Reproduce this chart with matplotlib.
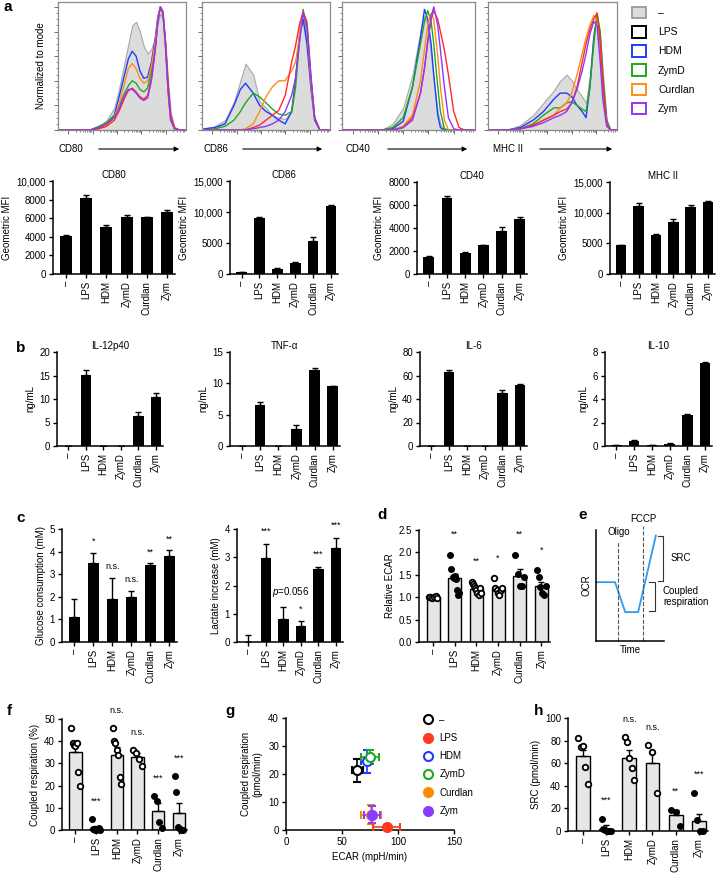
import numpy as np
import matplotlib
matplotlib.use('Agg')
import matplotlib.pyplot as plt
from matplotlib.patches import Patch
from matplotlib.lines import Line2D

plt.rcParams['font.family'] = ['Liberation Sans', 'DejaVu Sans']
plt.rcParams['font.size'] = 7
plt.rcParams['mathtext.fontset'] = 'custom'
plt.rcParams['mathtext.it'] = 'Liberation Sans:italic'
plt.rcParams['axes.linewidth'] = 1.1

groups = ['–', 'LPS', 'HDM', 'ZymD', 'Curdlan', 'Zym']
stims = ['LPS', 'HDM', 'ZymD', 'Curdlan', 'Zym']
line_col = {'LPS': '#ff2a2a', 'HDM': '#1f3cff', 'ZymD': '#1fa81f',
            'Curdlan': '#ff8c1a', 'Zym': '#9035ff'}
legend_col = {'–': '#a0a0a0', 'LPS': 'black', 'HDM': '#1f3cff', 'ZymD': '#1fa81f',
              'Curdlan': '#ff8c1a', 'Zym': '#9035ff'}

# ---- flow histograms (x = fraction of axis, y = % of mode)
cd80_x = [0, 0.25, 0.32, 0.38, 0.44, 0.48, 0.52, 0.55, 0.58, 0.61, 0.64, 0.67,
          0.70, 0.73, 0.76, 0.78, 0.80, 0.82, 0.84, 0.86, 0.88, 0.91, 0.95, 1.0]
cd80 = {
    '–':       [0, 0, 3, 8, 18, 35, 55, 70, 85, 88, 80, 68, 62, 66, 75, 88, 95, 90, 70, 40, 15, 2, 0, 0],
    'HDM':     [0, 0, 2, 5, 12, 28, 45, 58, 64, 60, 48, 42, 43, 55, 75, 92, 100, 96, 70, 35, 10, 1, 0, 0],
    'Curdlan': [0, 0, 1, 4, 10, 22, 38, 50, 54, 50, 42, 38, 40, 52, 72, 90, 100, 95, 68, 32, 8, 1, 0, 0],
    'ZymD':    [0, 0, 3, 6, 12, 20, 30, 36, 40, 38, 33, 31, 34, 48, 70, 90, 100, 95, 68, 32, 8, 1, 0, 0],
    'LPS':     [0, 0, 1, 3, 8, 16, 26, 32, 34, 31, 27, 25, 28, 42, 66, 88, 100, 96, 72, 38, 12, 2, 0, 0],
    'Zym':     [0, 0, 2, 5, 10, 18, 28, 33, 33, 30, 26, 24, 26, 40, 65, 88, 100, 94, 68, 32, 8, 1, 0, 0],
}
cd86_x = [0, 0.02, 0.1, 0.18, 0.25, 0.3, 0.34, 0.4, 0.45, 0.5, 0.55, 0.6, 0.65,
          0.7, 0.73, 0.76, 0.79, 0.82, 0.85, 0.88, 0.92, 1.0]
cd86 = {
    '–':       [0, 1, 3, 8, 23, 40, 54, 45, 23, 18, 12, 10, 9, 15, 35, 88, 93, 70, 35, 8, 0, 0],
    'HDM':     [0, 1, 2, 5, 20, 33, 38, 30, 20, 15, 12, 8, 5, 15, 40, 75, 90, 70, 35, 8, 0, 0],
    'ZymD':    [0, 0, 1, 3, 8, 15, 22, 30, 27, 22, 17, 13, 12, 15, 35, 70, 98, 80, 40, 10, 0, 0],
    'Curdlan': [0, 0, 0, 0, 0, 0, 1, 5, 15, 27, 35, 40, 40, 48, 55, 75, 96, 85, 40, 10, 0, 0],
    'LPS':     [0, 0, 0, 0, 0, 0, 0, 2, 4, 8, 12, 16, 28, 55, 68, 85, 96, 88, 45, 10, 0, 0],
    'Zym':     [0, 0, 0, 0, 0, 0, 0, 1, 2, 3, 5, 8, 15, 28, 42, 70, 95, 85, 45, 10, 0, 0],
}
cd40_x = [0, 0.3, 0.38, 0.46, 0.53, 0.59, 0.62, 0.645, 0.67, 0.69, 0.72, 0.74,
          0.77, 0.80, 0.84, 0.88, 0.92, 1.0]
cd40 = {
    '–':       [0, 0, 5, 18, 45, 80, 93, 85, 60, 40, 15, 5, 1, 0, 0, 0, 0, 0],
    'HDM':     [0, 0, 1, 7, 35, 75, 98, 90, 70, 45, 12, 2, 0, 0, 0, 0, 0, 0],
    'ZymD':    [0, 0, 2, 10, 35, 70, 88, 97, 88, 70, 35, 15, 1, 0, 0, 0, 0, 0],
    'Curdlan': [0, 0, 0, 3, 12, 40, 65, 85, 95, 90, 60, 35, 8, 0, 0, 0, 0, 0],
    'Zym':     [0, 0, 0, 2, 8, 30, 50, 72, 92, 100, 85, 65, 35, 10, 1, 0, 0, 0],
    'LPS':     [0, 0, 0, 2, 10, 30, 50, 72, 90, 97, 90, 80, 65, 45, 15, 2, 0, 0],
}
mhc_x = [0, 0.15, 0.25, 0.35, 0.43, 0.51, 0.56, 0.61, 0.65, 0.69, 0.73, 0.76,
         0.79, 0.82, 0.845, 0.87, 0.89, 0.92, 0.95, 1.0]
mhc = {
    '–':       [0, 0, 4, 12, 22, 32, 40, 45, 40, 33, 27, 22, 45, 80, 94, 75, 48, 7, 0, 0],
    'HDM':     [0, 0, 2, 8, 15, 25, 30, 30, 27, 20, 15, 10, 35, 75, 92, 70, 35, 8, 0, 0],
    'ZymD':    [0, 0, 1, 5, 12, 18, 18, 22, 23, 20, 17, 15, 35, 70, 95, 80, 45, 8, 0, 0],
    'Curdlan': [0, 0, 1, 3, 8, 12, 18, 22, 30, 45, 62, 75, 85, 93, 90, 60, 30, 5, 0, 0],
    'LPS':     [0, 0, 1, 4, 8, 12, 15, 17, 22, 35, 55, 70, 82, 90, 95, 75, 40, 5, 0, 0],
    'Zym':     [0, 0, 1, 3, 6, 10, 12, 15, 22, 33, 48, 62, 78, 88, 85, 55, 25, 3, 0, 0],
}
hist_names = ['CD80', 'CD86', 'CD40', 'MHC II']

# ---- MFI bars
cd80_mfi = [4100, 8200, 5100, 6100, 6100, 6700]
cd80_err = [50, 250, 200, 250, 50, 200]
cd86_mfi = [350, 9100, 850, 1800, 5300, 11000]
cd86_err = [50, 150, 80, 100, 700, 200]
cd40_mfi = [1500, 6600, 1850, 2500, 3700, 4800]
cd40_err = [30, 200, 40, 20, 350, 200]
mhc_mfi = [4700, 11100, 6300, 8400, 10900, 11700]
mhc_err = [100, 500, 300, 600, 400, 200]

# ---- cytokines (ng/mL)
il12 = [0, 15.2, 0, 0, 6.3, 10.5]
il12_err = [0, 0.9, 0, 0, 0.9, 0.8]
tnf = [0, 6.6, 0, 2.7, 12.1, 9.5]
tnf_err = [0, 0.5, 0, 0.6, 0.3, 0.15]
il6 = [0, 63, 0, 0, 45, 51.5]
il6_err = [0, 2, 0, 0, 3, 1]
il10 = [0.05, 0.45, 0.05, 0.2, 2.65, 7.05]
il10_err = [0.02, 0.05, 0.02, 0.03, 0.05, 0.1]

# ---- glucose / lactate
gluc = [1.1, 3.5, 1.9, 2.0, 3.4, 3.8]
gluc_err = [0.8, 0.45, 0.95, 0.25, 0.08, 0.25]
gluc_sig = ['', '*', 'n.s.', 'n.s.', '**', '**']
lact = [0, 2.97, 0.8, 0.55, 2.57, 3.33]
lact_err = [0.25, 0.5, 0.45, 0.18, 0.08, 0.35]
lact_sig = ['', '***', '$p$=0.056', '*', '***', '***']

# ---- relative ECAR
ecar_mean = [1.0, 1.43, 1.18, 1.18, 1.48, 1.25]
ecar_err = [0.01, 0.08, 0.04, 0.05, 0.14, 0.08]
ecar_pts = [[1.0, 1.01, 0.99, 1.0, 1.02, 0.98],
            [1.95, 1.62, 1.45, 1.42, 1.48, 1.4, 1.15, 1.05, 1.1],
            [1.35, 1.3, 1.25, 1.2, 1.15, 1.1, 1.05, 1.2, 1.1],
            [1.43, 1.2, 1.15, 1.1, 1.05, 1.15, 1.2],
            [1.95, 1.52, 1.25, 1.25, 1.45],
            [1.6, 1.45, 1.22, 1.1, 1.05, 1.25]]
ecar_sig = ['', '**', '**', '*', '**', '*']

# ---- schematic
e_time = [0, 0.28, 0.43, 0.62, 0.88]
e_ocr = [0.53, 0.53, 0.26, 0.26, 0.95]

# ---- coupled respiration (%)
coup_mean = [35, 0.8, 34, 33, 8.5, 7.5]
coup_err = [3, 0.8, 3.5, 1.5, 3.5, 4.5]
coup_pts = [[46, 39, 38.5, 38, 39, 26, 20], [5, 0.5, 0, 0, 0.5, 1, 0],
            [46, 40, 39, 36, 34, 24, 20.5], [36, 34.5, 32, 29],
            [15.5, 13, 3.5, 1], [24.5, 17, 1.5, 0.5, 0, 0]]
coup_sig = ['', '***', 'n.s.', 'n.s.', '***', '***']

# ---- ECAR vs OCR
g_ecar = [63.5, 90, 72, 75, 76, 77]
g_ecar_err = [5, 12, 5, 8, 9, 7]
g_ocr = [21.3, 1.2, 24.5, 26, 5.5, 5.5]
g_ocr_err = [4, 0.5, 4, 2.5, 3.5, 3]
g_col = ['black', '#ff3b1f', '#1f3cff', '#1fa81f', '#ff8c00', '#8a3cff']

# ---- SRC
src_mean = [66, 2, 65, 60, 14, 9]
src_err = [6, 3, 7, 9, 5, 6]
src_pts = [[82, 74, 75, 57, 42], [11, 2, 1, 0, 0, 0], [83, 79, 65, 56, 45],
           [76, 70, 34], [19, 17, 4], [34, 10, 0, 0]]
src_sig = ['', '***', 'n.s.', 'n.s.', '**', '***']

open_grp = [True, False, True, True, False, False]

W, H = 720, 876
fig = plt.figure(figsize=(W / 100, H / 100), dpi=100)


def box(l, t, r, b):
    return fig.add_axes([l / W, 1 - b / H, (r - l) / W, (b - t) / H])


def ftext(x, y, s, **kw):
    fig.text(x / W, 1 - y / H, s, **kw)


def prism(ax, ylim, yticks, yticklabels=None, ylabel=None):
    x = np.arange(len(groups))
    ax.spines[['top', 'right']].set_visible(False)
    ax.set_xlim(-0.65, 5.4)
    ax.set_ylim(*ylim)
    ax.set_xticks(x)
    ax.set_xticklabels(groups, rotation=90)
    ax.set_yticks(yticks)
    if yticklabels is not None:
        ax.set_yticklabels(yticklabels)
    ax.tick_params(length=3, width=1, pad=2, labelsize=7)
    if ylabel:
        ax.set_ylabel(ylabel, labelpad=3)
    return x


def black_bars(ax, means, errs):
    x = np.arange(len(groups))
    ax.bar(x, means, width=0.6, color='black', zorder=2)
    ax.errorbar(x, means, yerr=[np.zeros(len(x)), errs], fmt='none',
                ecolor='black', elinewidth=1, capsize=2.5, capthick=1, zorder=1)


def dot_bars(ax, means, errs, pts, sig, off):
    x = np.arange(len(groups))
    ax.bar(x, means, width=0.6, color='#e6e6e6', edgecolor='black', linewidth=1, zorder=1)
    ax.errorbar(x, means, yerr=[np.zeros(len(x)), errs], fmt='none',
                ecolor='black', elinewidth=1, capsize=2.5, capthick=1, zorder=2)
    for i, p in enumerate(pts):
        jit = np.linspace(-0.2, 0.2, len(p))
        if open_grp[i]:
            ax.scatter(x[i] + jit, p, s=16, facecolor='white', edgecolor='black',
                       linewidth=1.3, zorder=3, clip_on=False)
        else:
            ax.scatter(x[i] + jit, p, s=16, color='black', zorder=3, clip_on=False)
        top = max(max(p), means[i] + errs[i])
        ax.text(x[i], top + off, sig[i], ha='center', va='bottom', fontsize=6.5, clip_on=False)


# ===== a: histograms
hboxes = [(58, 2, 186, 130), (202, 2, 330, 130), (342, 2, 475, 130), (488, 2, 617, 130)]
hdata = [(cd80_x, cd80), (cd86_x, cd86), (cd40_x, cd40), (mhc_x, mhc)]
dec = np.array([0.08, 0.27, 0.46, 0.65, 0.84])
minor = np.concatenate([d + 0.19 * np.log10(np.arange(2, 10)) for d in dec])
minor = minor[minor < 1]
for k, (bx, (hx, hd)) in enumerate(zip(hboxes, hdata)):
    ax = box(*bx)
    ax.fill_between(hx, hd['–'], color='#dcdcdc', edgecolor='#a8a8a8', linewidth=0.8)
    for nm in ['HDM', 'ZymD', 'Curdlan', 'LPS', 'Zym']:
        ax.plot(hx, hd[nm], color=line_col[nm], lw=1)
    ax.set_xlim(0, 1)
    ax.set_ylim(0, 104)
    for s in ax.spines.values():
        s.set_color('#8a8a8a')
        s.set_linewidth(0.9)
    ax.set_yticks(np.arange(0, 101, 20))
    ax.set_yticks(np.arange(0, 101, 5), minor=True)
    ax.set_xticks(dec)
    ax.set_xticks(minor, minor=True)
    ax.tick_params(which='major', length=3, width=0.6, color='#555555', labelleft=False, labelbottom=False)
    ax.tick_params(which='minor', length=1.5, width=0.5, color='#555555')
    if k == 0:
        ax.set_ylabel('Normalized to mode', labelpad=4)

handles = [Patch(facecolor='#dcdcdc' if g == '–' else 'white', edgecolor=legend_col[g], linewidth=1.4)
           for g in groups]
fig.legend(handles, groups, loc='upper left', bbox_to_anchor=(632 / W, 1 - 7 / H),
           frameon=False, handlelength=1.3, handleheight=1.3, labelspacing=0.75,
           handletextpad=1.2, borderpad=0, borderaxespad=0, fontsize=7.5)

arrows = [(71, 96, 182), (216, 240, 325), (358, 385, 470), (508, 537, 615)]
for nm, (tx, a0, a1) in zip(hist_names, arrows):
    ftext(tx, 149, nm, ha='center', va='center', fontsize=7)
    fig.add_artist(matplotlib.patches.FancyArrowPatch(
        (a0 / W, 1 - 149 / H), (a1 / W, 1 - 149 / H), transform=fig.transFigure,
        arrowstyle='-|>', mutation_scale=7, color='black', lw=0.8))

# ===== a: MFI bars
mfi_boxes = [(53, 181, 175, 274), (230, 181, 338, 274), (417, 182, 527, 274), (610, 182, 715, 274)]
mfi_data = [(cd80_mfi, cd80_err, (0, 10000), [0, 2000, 4000, 6000, 8000, 10000],
             ['0', '2000', '4000', '6000', '8000', '10,000']),
            (cd86_mfi, cd86_err, (0, 15000), [0, 5000, 10000, 15000], ['0', '5000', '10,000', '15,000']),
            (cd40_mfi, cd40_err, (0, 8000), [0, 2000, 4000, 6000, 8000], ['0', '2000', '4000', '6000', '8000']),
            (mhc_mfi, mhc_err, (0, 15000), [0, 5000, 10000, 15000], ['0', '5000', '10,000', '15,000'])]
for bx, nm, (m, e, yl, yt, ytl) in zip(mfi_boxes, hist_names, mfi_data):
    ax = box(*bx)
    prism(ax, yl, yt, ytl, 'Geometric MFI')
    black_bars(ax, m, e)
    ax.set_title(nm, fontsize=7, pad=2)

# ===== b: cytokines
cyt_boxes = [(57, 352, 163, 446), (230, 352, 340, 446), (420, 352, 527, 446), (605, 352, 712, 446)]
cyt_data = [('IL-12p40', il12, il12_err, (0, 20), [0, 5, 10, 15, 20]),
            ('TNF-α', tnf, tnf_err, (0, 15), [0, 5, 10, 15]),
            ('IL-6', il6, il6_err, (0, 80), [0, 20, 40, 60, 80]),
            ('IL-10', il10, il10_err, (0, 8), [0, 2, 4, 6, 8])]
for bx, (nm, m, e, yl, yt) in zip(cyt_boxes, cyt_data):
    ax = box(*bx)
    prism(ax, yl, yt, None, 'ng/mL')
    black_bars(ax, m, e)
    ax.set_title(nm, fontsize=7, pad=2)

# ===== c: glucose / lactate
ax = box(62, 529, 177, 642)
x = prism(ax, (0, 5), [0, 1, 2, 3, 4, 5], None, 'Glucose consumption (mM)')
black_bars(ax, gluc, gluc_err)
for i in range(6):
    ax.text(x[i], gluc[i] + gluc_err[i] + 0.3, gluc_sig[i], ha='center', va='bottom', fontsize=6.5)

ax = box(237, 529, 343, 642)
x = prism(ax, (0, 4), [0, 1, 2, 3, 4], None, 'Lactate increase (mM)')
black_bars(ax, lact, lact_err)
for i in range(6):
    ax.text(x[i] + (0.4 if i == 2 else 0), lact[i] + lact_err[i] + 0.28, lact_sig[i],
            ha='center', va='bottom', fontsize=7 if i == 2 else 6.5, clip_on=False, zorder=5)

# ===== d: relative ECAR
ax = box(419, 530, 550, 642)
prism(ax, (0, 2.5), [0, 0.5, 1, 1.5, 2, 2.5], ['0.0', '0.5', '1.0', '1.5', '2.0', '2.5'], 'Relative ECAR')
dot_bars(ax, ecar_mean, ecar_err, ecar_pts, ecar_sig, 0.35)

# ===== e: schematic
ax = box(596, 530, 664, 641)
ax.spines[['top', 'right']].set_visible(False)
ax.set_xlim(0, 1)
ax.set_ylim(0, 1)
ax.set_xticks([])
ax.set_yticks([])
ax.plot(e_time, e_ocr, color='#2b9bf4', lw=1.3, clip_on=False)
ax.plot([0.32, 0.32], [0, 0.9], ls='--', color='#555555', lw=0.8, clip_on=False)
ax.plot([0.69, 0.69], [0, 1.04], ls='--', color='#555555', lw=0.8, clip_on=False)
ax.text(0.34, 0.98, 'Oligo', ha='center', va='center', fontsize=7)
ax.text(0.69, 1.1, 'FCCP', ha='center', va='center', fontsize=7)
ax.plot([0.91, 0.985, 0.985, 0.91], [0.95, 0.95, 0.54, 0.54], color='#333333', lw=0.8, clip_on=False)
ax.plot([0.78, 0.87, 0.87, 0.78], [0.53, 0.53, 0.27, 0.27], color='#333333', lw=0.8, clip_on=False)
ax.text(1.09, 0.75, 'SRC', ha='left', va='center', fontsize=7)
ax.text(0.985, 0.4, 'Coupled\nrespiration', ha='left', va='center', fontsize=7, linespacing=1.2)
ax.set_xlabel('Time', labelpad=3)
ax.set_ylabel('OCR', labelpad=3)

# ===== f: coupled respiration
ax = box(62, 719, 187, 830)
prism(ax, (0, 50), [0, 10, 20, 30, 40, 50], None, 'Coupled respiration (%)')
dot_bars(ax, coup_mean, coup_err, coup_pts, coup_sig, 6)

# ===== g: ECAR vs OCR
ax = box(286, 718, 454, 830)
ax.spines[['top', 'right']].set_visible(False)
ax.set_xlim(0, 150)
ax.set_ylim(0, 40)
ax.set_xticks([0, 50, 100, 150])
ax.set_yticks([0, 10, 20, 30, 40])
ax.tick_params(length=3, width=1, pad=2, labelsize=7)
for i in [0, 2, 3, 4, 5, 1]:
    ax.errorbar(g_ecar[i], g_ocr[i], xerr=g_ecar_err[i], yerr=g_ocr_err[i], fmt='o',
                color=g_col[i], mfc='white' if open_grp[i] else g_col[i], mec=g_col[i],
                ms=6.5, mew=1.5, elinewidth=1.2, capsize=3, capthick=1.2, clip_on=False, zorder=3)
ax.set_xlabel('ECAR (mpH/min)', labelpad=4)
ax.set_ylabel('Coupled respiration\n(pmol/min)', labelpad=4)
gh = [Line2D([], [], ls='none', marker='o', ms=6.5, mew=1.5, color=c,
             mfc='white' if o else c, mec=c) for c, o in zip(g_col, open_grp)]
ax.legend(gh, groups, loc='upper left', bbox_to_anchor=(0.815, 1.03), frameon=False,
          handlelength=1.0, handletextpad=0.7, labelspacing=0.85, borderpad=0,
          borderaxespad=0, fontsize=7)

# ===== h: SRC
ax = box(568, 718, 708, 831)
prism(ax, (0, 100), [0, 20, 40, 60, 80, 100], None, 'SRC (pmol/min)')
dot_bars(ax, src_mean, src_err, src_pts, src_sig, 12)

# panel letters
for s, px, py in [('a', 3, 0), ('b', 16, 341), ('c', 16, 511), ('d', 377, 508),
                  ('e', 578, 508), ('f', 7, 704), ('g', 225, 704), ('h', 534, 704)]:
    ftext(px, py, s, fontsize=11, fontweight='bold', va='top', ha='left')

fig.savefig('out.png', dpi=100)
